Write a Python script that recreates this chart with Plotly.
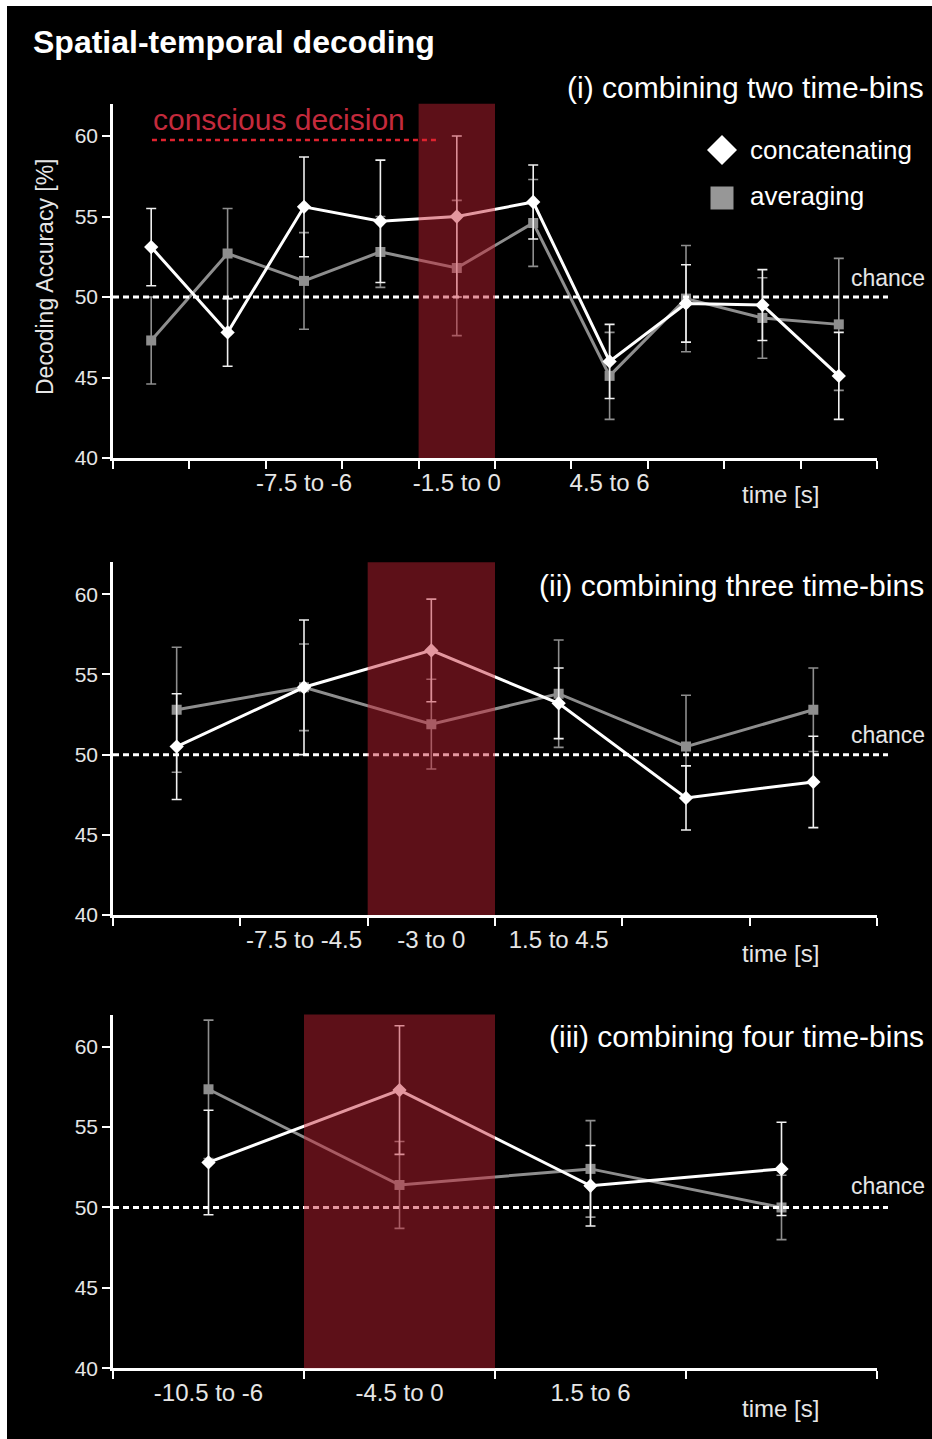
import plotly.graph_objects as go

W, H = 932, 1439

# ---------------- data ----------------
# Panel (i): combining two time-bins
p1_x = [0.5, 1.5, 2.5, 3.5, 4.5, 5.5, 6.5, 7.5, 8.5, 9.5]
p1_concat = [53.1, 47.8, 55.6, 54.7, 55.0, 55.9, 46.0, 49.6, 49.5, 45.1]
p1_concat_err = [2.4, 2.1, 3.1, 3.8, 5.0, 2.3, 2.3, 2.4, 2.2, 2.7]
p1_avg = [47.3, 52.7, 51.0, 52.8, 51.8, 54.6, 45.1, 49.9, 48.7, 48.3]
p1_avg_err = [2.7, 2.8, 3.0, 2.2, 4.2, 2.7, 2.7, 3.3, 2.5, 4.1]
p1_tickvals = [2.5, 4.5, 6.5]
p1_ticktext = ["-7.5 to -6", "-1.5 to 0", "4.5 to 6"]
p1_nbins = 10
p1_decision = [4, 5]

# Panel (ii): combining three time-bins
p2_x = [0.5, 1.5, 2.5, 3.5, 4.5, 5.5]
p2_concat = [50.5, 54.2, 56.5, 53.2, 47.3, 48.3]
p2_concat_err = [3.3, 4.2, 3.2, 2.2, 2.0, 2.85]
p2_avg = [52.8, 54.2, 51.9, 53.8, 50.5, 52.8]
p2_avg_err = [3.9, 2.7, 2.8, 3.35, 3.2, 2.6]
p2_tickvals = [1.5, 2.5, 3.5]
p2_ticktext = ["-7.5 to -4.5", "-3 to 0", "1.5 to 4.5"]
p2_nbins = 6
p2_decision = [2, 3]

# Panel (iii): combining four time-bins
p3_x = [0.5, 1.5, 2.5, 3.5]
p3_concat = [52.8, 57.3, 51.35, 52.4]
p3_concat_err = [3.25, 4.0, 2.5, 2.9]
p3_avg = [57.35, 51.4, 52.4, 50.0]
p3_avg_err = [4.3, 2.7, 3.0, 2.0]
p3_tickvals = [0.5, 1.5, 2.5]
p3_ticktext = ["-10.5 to -6", "-4.5 to 0", "1.5 to 6"]
p3_nbins = 4
p3_decision = [1, 2]

panel_titles = ["(i) combining two time-bins",
                "(ii) combining three time-bins",
                "(iii) combining four time-bins"]
series_names = ["concatenating", "averaging"]
y_ticks = [40, 45, 50, 55, 60]
y_range = [40, 62]
chance_level = 50

# ---------------- styling ----------------
FONT = "Liberation Sans, Arial, Helvetica, sans-serif"
WHITE = "#ffffff"
GRAY = "#8e8e8e"
TXT = "#e6e6e6"
SHADE = "rgb(197,34,51)"
RED_TXT = "#c42a3c"
RED_LINE = "#e0232f"


def px(x):
    return x / W


def py(y):
    return 1 - y / H


# pixel layout (top, bottom of each plot area)
panel_px = [(103.8, 458.0), (562.2, 915.0), (1014.5, 1368.3)]
x_dom = [px(113), px(877)]

panels = [
    (p1_x, p1_concat, p1_concat_err, p1_avg, p1_avg_err, p1_tickvals, p1_ticktext, p1_nbins, p1_decision),
    (p2_x, p2_concat, p2_concat_err, p2_avg, p2_avg_err, p2_tickvals, p2_ticktext, p2_nbins, p2_decision),
    (p3_x, p3_concat, p3_concat_err, p3_avg, p3_avg_err, p3_tickvals, p3_ticktext, p3_nbins, p3_decision),
]

fig = go.Figure()
shapes = []
annotations = []

# black panel background (white frame strip at top/left)
shapes.append(dict(type="rect", xref="paper", yref="paper", x0=px(7), x1=1.01, y0=-0.01, y1=py(6),
                   fillcolor="black", line=dict(width=0), layer="below"))

layout_axes = {}
for i, (xs, conc, conc_e, avg, avg_e, tv, tt, nb, dec) in enumerate(panels, start=1):
    sfx = "" if i == 1 else str(i)
    xa, ya = "x" + sfx, "y" + sfx

    fig.add_trace(go.Scatter(
        x=xs, y=avg, name=series_names[1], mode="lines+markers", xaxis=xa, yaxis=ya,
        line=dict(color=GRAY, width=3),
        marker=dict(symbol="square", size=10, color=GRAY),
        error_y=dict(type="data", array=avg_e, visible=True, color=GRAY, thickness=1.6, width=5),
        showlegend=False))
    fig.add_trace(go.Scatter(
        x=xs, y=conc, name=series_names[0], mode="lines+markers", xaxis=xa, yaxis=ya,
        line=dict(color=WHITE, width=3),
        marker=dict(symbol="diamond", size=11, color=WHITE),
        error_y=dict(type="data", array=conc_e, visible=True, color="#f0f0f0", thickness=1.6, width=5),
        showlegend=False))

    top, bot = panel_px[i - 1]
    layout_axes["xaxis" + sfx] = dict(
        domain=x_dom, range=[0, nb], anchor=ya,
        showgrid=False, zeroline=False, showline=True, linecolor=WHITE, linewidth=2.5,
        tickmode="array", tickvals=tv, ticktext=tt,
        ticks="outside", ticklen=1, tickcolor="rgba(0,0,0,0)",
        tickfont=dict(family=FONT, size=24, color=TXT),
        minor=dict(tickmode="array", tickvals=list(range(nb + 1)), ticks="outside",
                   ticklen=8, tickwidth=2, tickcolor=WHITE, showgrid=False),
        fixedrange=True)
    layout_axes["yaxis" + sfx] = dict(
        domain=[py(bot), py(top)], range=y_range, anchor=xa,
        showgrid=False, zeroline=False, showline=True, linecolor=WHITE, linewidth=2.5,
        tickmode="array", tickvals=y_ticks, ticks="outside", ticklen=8, tickwidth=2,
        tickcolor=WHITE, tickfont=dict(family=FONT, size=21, color=TXT),
        fixedrange=True)

    # chance line
    shapes.append(dict(type="line", xref=xa + " domain", yref=ya, x0=0, x1=(888 - 113) / 764,
                       y0=chance_level, y1=chance_level,
                       line=dict(color=WHITE, width=3, dash="6px,4px"), layer="above"))
    # decision window shading
    shapes.append(dict(type="rect", xref=xa, yref=ya + " domain", x0=dec[0], x1=dec[1], y0=0, y1=1,
                       fillcolor=SHADE, opacity=0.47, line=dict(width=0), layer="above"))

    # panel title
    title_y = [87, 585, 1036][i - 1]
    annotations.append(dict(text=panel_titles[i - 1], xref="paper", yref="paper",
                            x=px(926), y=py(title_y), xanchor="right", yanchor="middle",
                            showarrow=False, font=dict(family=FONT, size=30, color=WHITE)))
    # chance label
    chance_y = [278, 735, 1186][i - 1]
    annotations.append(dict(text="chance", xref="paper", yref="paper",
                            x=px(849), y=py(chance_y), xanchor="left", yanchor="middle",
                            showarrow=False, font=dict(family=FONT, size=23, color=TXT)))
    # time label
    time_y = [494, 954, 1408][i - 1]
    annotations.append(dict(text="time [s]", xref="paper", yref="paper",
                            x=px(780), y=py(time_y), xanchor="center", yanchor="middle",
                            showarrow=False, font=dict(family=FONT, size=24, color=TXT)))

# conscious decision label + dotted line (panel i)
annotations.append(dict(text="conscious decision", xref="paper", yref="paper",
                        x=px(279), y=py(120), xanchor="center", yanchor="middle",
                        showarrow=False, font=dict(family=FONT, size=30, color=RED_TXT)))
shapes.append(dict(type="line", xref="x", yref="y", x0=0.51, x1=4.24, y0=59.75, y1=59.75,
                   line=dict(color=RED_LINE, width=2.5, dash="5px,4px"), layer="above"))

# main title
annotations.append(dict(text="<b>Spatial-temporal decoding</b>", xref="paper", yref="paper",
                        x=px(31), y=py(42), xanchor="left", yanchor="middle",
                        showarrow=False, font=dict(family=FONT, size=32, color=WHITE)))

# y-axis title (panel i)
annotations.append(dict(text="Decoding Accuracy [%]", xref="paper", yref="paper",
                        x=px(45), y=py(277), xanchor="center", yanchor="middle", textangle=-90,
                        showarrow=False, font=dict(family=FONT, size=23, color=TXT)))

# legend (drawn manually for large symbols)
cx, cy, r = 722, 150, 15
shapes.append(dict(type="path", xref="paper", yref="paper",
                   path=f"M {px(cx - r)},{py(cy)} L {px(cx)},{py(cy - r)} L {px(cx + r)},{py(cy)} "
                        f"L {px(cx)},{py(cy + r)} Z",
                   fillcolor=WHITE, line=dict(width=0), layer="above"))
sq_cy, s = 198, 11.5
shapes.append(dict(type="rect", xref="paper", yref="paper",
                   x0=px(cx - s), x1=px(cx + s), y0=py(sq_cy + s), y1=py(sq_cy - s),
                   fillcolor="#979797", line=dict(width=0), layer="above"))
annotations.append(dict(text=series_names[0], xref="paper", yref="paper",
                        x=px(748), y=py(150), xanchor="left", yanchor="middle",
                        showarrow=False, font=dict(family=FONT, size=26, color=WHITE)))
annotations.append(dict(text=series_names[1], xref="paper", yref="paper",
                        x=px(748), y=py(196), xanchor="left", yanchor="middle",
                        showarrow=False, font=dict(family=FONT, size=26, color=WHITE)))

fig.update_layout(
    width=W, height=H, template="none",
    margin=dict(l=0, r=0, t=0, b=0),
    paper_bgcolor="white", plot_bgcolor="black",
    font=dict(family=FONT, color=WHITE),
    showlegend=False,
    shapes=shapes, annotations=annotations,
    **layout_axes)

fig.write_html("out.html",
               config={"displayModeBar": False},
               post_script="document.body.style.margin='0';document.body.style.overflow='hidden';")
